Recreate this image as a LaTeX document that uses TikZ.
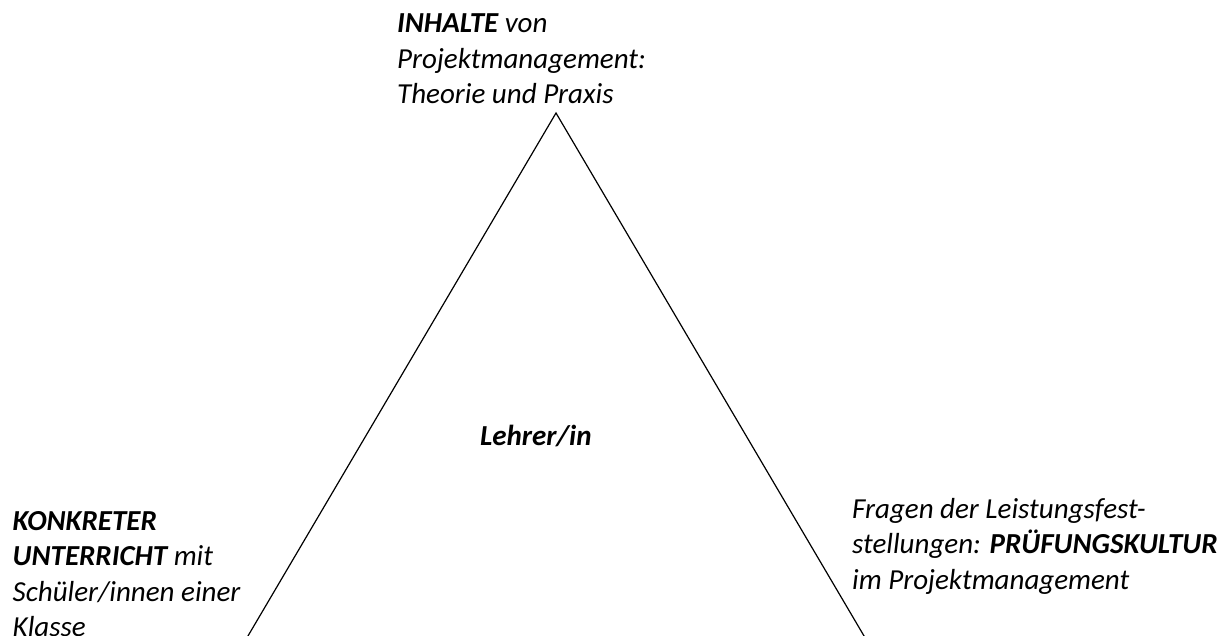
\documentclass[tikz,border=0pt]{standalone}
\usepackage{fontspec}
\setmainfont{Carlito}
\begin{document}
\begin{tikzpicture}[x=1pt,y=-1pt,
  lbl/.style={anchor=base west,inner sep=0pt,align=left,font=\fontsize{29}{35.5}\selectfont\itshape},
  edge/.style={draw=black,line width=1.2pt}]
\useasboundingbox (0,0) rectangle (1225,636);
\begin{scope}
\clip (0,0) rectangle (1225,636);
\coordinate (apex) at (556,113);
\coordinate (bl) at (556-0.589*560,673);
\coordinate (br) at (556+0.589*560,673);
\draw[edge,line join=miter] (bl) -- (apex) -- (br);
\end{scope}
\node[lbl] (top) at (397,104) {\textbf{INHALTE} von\\Projektmanagement:\\Theorie und Praxis};
\node[lbl] (left) at (12.5,636.5) {\textbf{KONKRETER}\\\textbf{UNTERRICHT} mit\\Schüler/innen einer\\Klasse};
\node[lbl] (right) at (852,589) {Fragen der Leistungsfest-\\stellungen: \textbf{PRÜFUNGSKULTUR}\\im Projektmanagement};
\node[lbl,font=\fontsize{29}{35.5}\selectfont\itshape\bfseries] (center) at (480,445) {Lehrer/in};
\end{tikzpicture}
\end{document}
